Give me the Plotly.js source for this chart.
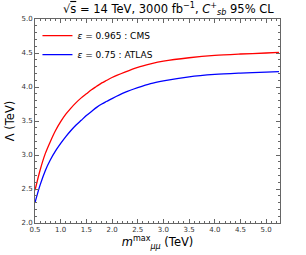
<!DOCTYPE html>
<html><head><meta charset="utf-8">
<script src="https://cdn.plot.ly/plotly-3.0.1.min.js"></script>
<style>html,body{margin:0;padding:0;background:#fff}</style>
</head><body><div id="chart" style="width:306px;height:255px"></div>
<script>
const mMax = [0.5, 0.6, 0.7, 0.8, 0.9, 1.0, 1.1, 1.2, 1.3, 1.4, 1.5, 1.6, 1.7, 1.8, 1.9, 2.0, 2.25, 2.5, 2.75, 3.0, 3.5, 4.0, 4.5, 5.0, 5.25];
const lambdaCMS = [2.48, 2.78, 3.02, 3.20, 3.36, 3.49, 3.60, 3.69, 3.77, 3.84, 3.90, 3.96, 4.01, 4.06, 4.10, 4.14, 4.22, 4.29, 4.34, 4.38, 4.43, 4.465, 4.485, 4.50, 4.51];
const lambdaATLAS = [2.30, 2.56, 2.77, 2.93, 3.06, 3.17, 3.27, 3.36, 3.44, 3.51, 3.58, 3.64, 3.70, 3.75, 3.79, 3.83, 3.92, 3.99, 4.05, 4.09, 4.15, 4.185, 4.205, 4.22, 4.225];
const nameCMS = '<i>ε</i> = 0.965 : CMS';
const nameATLAS = '<i>ε</i> = 0.75 : ATLAS';

const traces = [
  {x: mMax, y: lambdaCMS, name: nameCMS, mode: 'lines', line: {color: '#ff0000', width: 1.3, shape: 'spline', smoothing: 0.8}},
  {x: mMax, y: lambdaATLAS, name: nameATLAS, mode: 'lines', line: {color: '#0000ff', width: 1.3, shape: 'spline', smoothing: 0.8}}
];
const ax = {
  showline: true, mirror: 'ticks', linecolor: '#666', linewidth: 1,
  ticks: 'inside', ticklen: 4, tickcolor: '#666', tickwidth: 1,
  showgrid: false, zeroline: false,
  tickfont: {size: 7, family: 'DejaVu Sans', color: '#333'},
  minor: {ticks: 'inside', ticklen: 2, tickcolor: '#666', dtick: 0.1, showgrid: false}
};
const layout = {
  width: 306, height: 255,
  margin: {l: 35, r: 26, t: 19, b: 32},
  paper_bgcolor: '#fff', plot_bgcolor: '#fff',
  showlegend: true,
  legend: {x: 0.01, y: 0.99, xanchor: 'left', yanchor: 'top', bgcolor: 'rgba(0,0,0,0)',
           font: {size: 9, family: 'DejaVu Sans', color: '#000'}, tracegroupgap: 0, itemwidth: 30},
  title: {text: '√<span style="text-decoration:overline">s</span> = 14 TeV, 3000 fb<sup>−1</sup>, <i>C</i><sup>+</sup><sub><i>sb</i></sub> 95% CL',
          font: {size: 11.5, family: 'DejaVu Sans', color: '#000'}, x: 0.55, xanchor: 'center', y: 0.965, yanchor: 'middle'},
  xaxis: Object.assign({}, ax, {range: [0.5, 5.27], dtick: 0.5, tick0: 0.5, tickformat: '.1f',
          title: {text: '<i>m</i><sup>max</sup><sub><i>μμ</i></sub> (TeV)', font: {size: 11.5, family: 'DejaVu Sans', color: '#000'}, standoff: 2}}),
  yaxis: Object.assign({}, ax, {range: [2.0, 5.0], dtick: 0.5, tick0: 2.0, tickformat: '.1f',
          title: {text: 'Λ (TeV)', font: {size: 11.5, family: 'DejaVu Sans', color: '#000'}, standoff: 4}})
};
Plotly.newPlot('chart', traces, layout, {displayModeBar: false, staticPlot: true});
</script></body></html>
